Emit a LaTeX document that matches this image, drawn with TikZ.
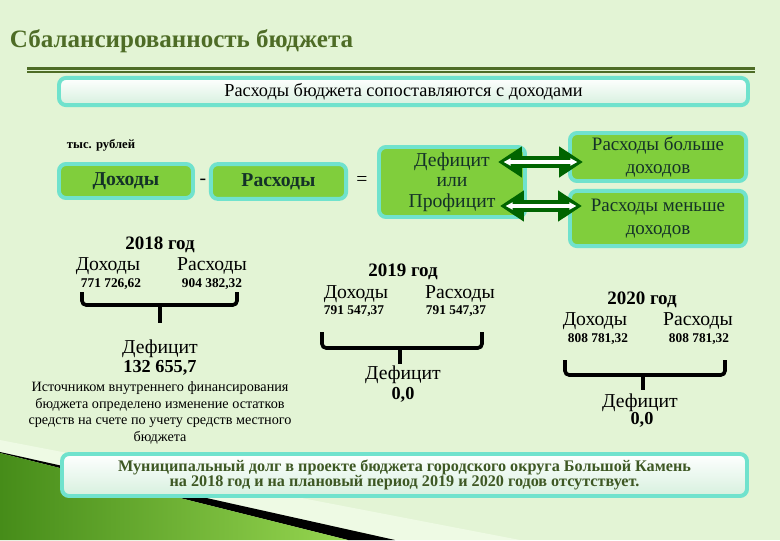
\documentclass[tikz,border=0pt]{standalone}
\usepackage{fontspec}
\setmainfont{Liberation Serif}
\usetikzlibrary{positioning,calc}
\usetikzlibrary{arrows.meta}
\definecolor{BgGreen}{RGB}{227,244,213}
\definecolor{TitleGreen}{RGB}{78,108,38}
\definecolor{BoxCyan}{RGB}{112,226,205}
\definecolor{LeafGreen}{RGB}{128,206,60}
\definecolor{InkGreen}{RGB}{20,50,40}
\definecolor{ArrowGreen}{RGB}{0,100,0}
\definecolor{PaleMint}{RGB}{214,240,222}
\definecolor{DebtGreen}{RGB}{62,88,36}
\definecolor{GrassDark}{RGB}{70,140,25}
\definecolor{GrassLight}{RGB}{150,214,80}
\definecolor{PaleWedge}{RGB}{238,250,228}
\tikzset{
  card/.style={draw=BoxCyan,line width=2.8pt,rounded corners=5pt,inner sep=0pt,outer sep=0pt,align=center},
  leaf/.style={card,fill=LeafGreen,text=InkGreen},
  banner/.style={card,top color=white,bottom color=PaleMint},
  dbl/.style={draw=ArrowGreen,line width=8pt,{Triangle[length=17pt,width=21pt]}-{Triangle[length=17pt,width=21pt]}},
  dblin/.style={draw=white,line width=2.4pt,{Triangle[length=5pt,width=5pt]}-{Triangle[length=5pt,width=5pt]},shorten <=4pt,shorten >=4pt},
  brace/.style={draw=black,line width=2.6pt,rounded corners=3pt},
}
\tikzset{yr/.style={font=\bfseries\fontsize{13.5}{15}\selectfont}, word/.style={font=\fontsize{14}{16}\selectfont}, num/.style={font=\bfseries\fontsize{9.5}{11}\selectfont}}

\begin{document}
\begin{tikzpicture}[x=0.025cm,y=-0.025cm]
\useasboundingbox (0,0) rectangle (780,540);
\fill[BgGreen] (0,0) rectangle (780,540);
% corner decoration
\fill[PaleWedge] (0,440)--(520,540)--(395,540)--(0,452)--cycle;
\fill[black] (0,452)--(395,540)--(348,540)--(0,453)--cycle;
\shade[left color=GrassDark,right color=GrassLight] (0,453)--(348,540)--(0,540)--cycle;
% title
\node[anchor=west,text=TitleGreen,font=\bfseries\fontsize{17.8}{21}\selectfont](ttl) at (5,41){Сбалансированность бюджета};
\draw[TitleGreen,line width=2.1pt] (27,68.3)--(755,68.3);\draw[TitleGreen,line width=1.3pt] (27,72)--(755,72);
\node[banner,minimum width=17.22cm,minimum height=0.68cm,font=\fontsize{13}{15}\selectfont](top) at (403.5,91.5){Расходы бюджета сопоставляются с доходами};
% formula
\node[font=\bfseries\fontsize{9}{11}\selectfont](unit) at (101,145){тыс. рублей};
\node[leaf,minimum width=3.35cm,minimum height=0.85cm,font=\bfseries\fontsize{14}{16}\selectfont](inc) at (126,181){Доходы};
\node[word](minus) at (203,182){-};
\node[leaf,minimum width=3.38cm,minimum height=0.87cm,font=\bfseries\fontsize{14}{16}\selectfont](exp) at (278.5,181.5){Расходы};
\node[word](eq) at (362,181){=};
\node[leaf,minimum width=3.65cm,minimum height=1.75cm,font=\fontsize{14}{14.5}\selectfont](bal) at (452,182){Дефицит\\или\\Профицит};
\node[leaf,minimum width=4.4cm,minimum height=1.2cm,font=\fontsize{13.5}{16}\selectfont](more) at (658,157){Расходы больше\\доходов};
\node[leaf,minimum width=4.4cm,minimum height=1.38cm,font=\fontsize{13.5}{16}\selectfont](less) at (658,218.5){Расходы меньше\\доходов};
\coordinate (a1) at (498,162);\coordinate (b1) at (583,162);\coordinate (a2) at (500,206);\coordinate (b2) at (582,206);
\draw[dbl] (a1)--(b1);\draw[dblin] (a1)--(b1);
\draw[dbl] (a2)--(b2);\draw[dblin] (a2)--(b2);
% 2018
\node[yr](y18) at (160,245){2018 год};
\node[word](d18) at (108,266){Доходы};\node[word](r18) at (212,266){Расходы};
\node[num](nd18) at (111,284){771 726,62};\node[num](nr18) at (212,284){904 382,32};
\draw[brace] (82,292)--(82,305)--(237,305)--(237,292);\draw[brace] (160,305)--(160,323);
\node[word](f18) at (160,349){Дефицит};
\node[font=\bfseries\fontsize{13}{15}\selectfont](v18) at (160,368){132 655,7};
\node[align=center,font=\fontsize{10.1}{11.9}\selectfont](src) at (160,413){Источником внутреннего финансирования\\бюджета определено изменение остатков\\средств на счете по учету средств местного\\бюджета};
% 2019
\node[yr](y19) at (403,272){2019 год};
\node[word](d19) at (356,294){Доходы};\node[word](r19) at (460,294){Расходы};
\node[num](nd19) at (354,311){791 547,37};\node[num](nr19) at (456,311){791 547,37};
\draw[brace] (322,332)--(322,348)--(482,348)--(482,332);\draw[brace] (400,348)--(400,364);
\node[word](f19) at (403,375){Дефицит};
\node[font=\bfseries\fontsize{13}{15}\selectfont](v19) at (403,395){0,0};
% 2020
\node[yr](y20) at (642,300){2020 год};
\node[word](d20) at (595,321){Доходы};\node[word](r20) at (698,321){Расходы};
\node[num](nd20) at (598,339){808 781,32};\node[num](nr20) at (699,339){808 781,32};
\draw[brace] (565,360)--(565,375)--(725,375)--(725,360);\draw[brace] (643,375)--(643,390);
\node[word](f20) at (640,403){Дефицит};
\node[font=\bfseries\fontsize{13}{15}\selectfont](v20) at (642,420){0,0};
% debt
\node[banner,minimum width=17.12cm,minimum height=1.05cm,text=DebtGreen,font=\bfseries\fontsize{11.5}{10.8}\selectfont](debt) at (404.5,475){Муниципальный долг в проекте бюджета городского округа Большой Камень\\на 2018 год и на плановый период 2019 и 2020 годов отсутствует.};
\end{tikzpicture}
\end{document}
